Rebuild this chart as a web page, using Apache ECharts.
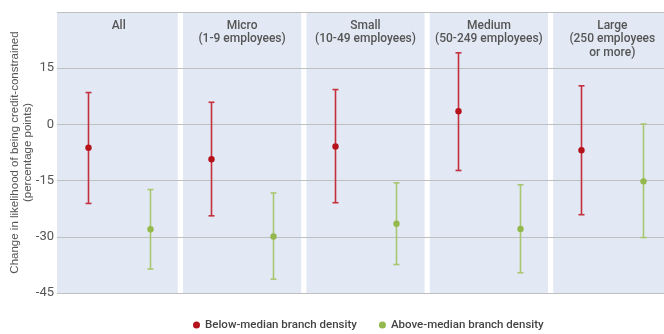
<!DOCTYPE html>
<html>
<head>
<meta charset="utf-8">
<script src="https://cdn.jsdelivr.net/npm/echarts@6/dist/echarts.min.js"></script>
<style>html,body{margin:0;padding:0;background:#fff}#c{width:664px;height:334px}</style>
</head>
<body>
<div id="c"></div>
<script>
const categories = ['All', 'Micro\n(1-9 employees)', 'Small\n(10-49 employees)', 'Medium\n(50-249 employees)', 'Large\n(250 employees\nor more)'];
const belowPoint = [-6.2, -9.3, -5.9, 3.5, -6.9];
const belowLow   = [-21.1, -24.4, -20.9, -12.3, -24.1];
const belowHigh  = [8.5, 5.9, 9.3, 19.1, 10.3];
const abovePoint = [-28.0, -29.9, -26.5, -27.9, -15.2];
const aboveLow   = [-38.6, -41.3, -37.4, -39.6, -30.2];
const aboveHigh  = [-17.4, -18.3, -15.6, -16.1, 0.1];
const seriesNames = ['Below-median branch density', 'Above-median branch density'];
const yTicks = { min: -45, max: 30, interval: 15 };

const RED = '#b5121b', RED_LINE = '#c4313d';
const GREEN = '#93b84c', GREEN_LINE = '#a9c670';
const FONT = '"Liberation Sans Narrow", Roboto, sans-serif';

function panelRender(params, api) {
  const cs = params.coordSys;
  const idx = api.value(0);
  const c = api.coord([idx, 0]);
  const bw = api.size([1, 0])[0];
  const gap = 2.6;
  let x0 = c[0] - bw / 2 + (idx === 0 ? 0 : gap);
  let x1 = c[0] + bw / 2 - gap;
  return { type: 'rect', shape: { x: x0, y: cs.y, width: x1 - x0, height: cs.height },
           style: { fill: '#e2e9f4' }, silent: true };
}

function errRender(side, lineColor, dotColor) {
  return function (params, api) {
    const idx = api.value(0);
    const bw = api.size([1, 0])[0];
    const p = api.coord([idx, api.value(3)]);
    const x = Math.round(p[0] + side * bw / 4) + 0.5;
    const lo = api.coord([idx, api.value(1)])[1];
    const hi = api.coord([idx, api.value(2)])[1];
    const cap = 3;
    const ls = { stroke: lineColor, lineWidth: 1.6 };
    return { type: 'group', children: [
      { type: 'line', shape: { x1: x, y1: hi, x2: x, y2: lo }, style: ls },
      { type: 'line', shape: { x1: x - cap, y1: hi, x2: x + cap, y2: hi }, style: ls },
      { type: 'line', shape: { x1: x - cap, y1: lo, x2: x + cap, y2: lo }, style: ls },
      { type: 'circle', shape: { cx: x, cy: p[1], r: 3.2 }, style: { fill: dotColor } }
    ]};
  };
}

const chart = echarts.init(document.getElementById('c'), null, { renderer: 'canvas' });
chart.setOption({
  animation: false,
  grid: { left: 57, right: -10, top: 12, bottom: 41, containLabel: false, outerBoundsMode: 'none' },
  legend: {
    top: 314, left: 188, itemGap: 22, itemWidth: 7, itemHeight: 7,
    textStyle: { fontFamily: FONT, fontSize: 11.5, fontWeight: 500, color: '#444' },
    data: [
      { name: seriesNames[0], icon: 'circle', itemStyle: { color: RED } },
      { name: seriesNames[1], icon: 'circle', itemStyle: { color: GREEN } }
    ]
  },
  xAxis: {
    type: 'category', data: categories, position: 'top', boundaryGap: true, z: 3,
    axisLine: { show: false }, axisTick: { show: false }, splitLine: { show: false },
    axisLabel: { inside: true, margin: 7, verticalAlign: 'top', interval: 0, hideOverlap: false,
      fontFamily: FONT, fontSize: 12, fontWeight: 500, color: '#555', lineHeight: 13.5 }
  },
  yAxis: {
    type: 'value', min: yTicks.min, max: yTicks.max, interval: yTicks.interval, z: 3,
    axisLine: { show: false }, axisTick: { show: false },
    splitLine: { show: true, lineStyle: { color: '#bfbfbf', width: 1 } },
    axisLabel: { margin: 3, fontFamily: FONT, fontSize: 13, color: '#555',
      formatter: v => (v === yTicks.max ? '' : String(v)) },
    name: 'Change in likelihood of being credit-constrained\n(percentage points)',
    nameLocation: 'middle', nameGap: 23, nameMoveOverlap: false,
    nameTextStyle: { fontFamily: '"Liberation Sans", Arial, sans-serif', fontSize: 11.5, color: '#555', lineHeight: 13 }
  },
  series: [
    { type: 'custom', name: 'panels', z: 1, silent: true, renderItem: panelRender,
      data: categories.map((c, i) => [i]), encode: { x: 0 } },
    { type: 'custom', name: seriesNames[0], z: 5, itemStyle: { color: RED },
      renderItem: errRender(-1, RED_LINE, RED),
      data: belowPoint.map((v, i) => [i, belowLow[i], belowHigh[i], v]), encode: { x: 0, y: [1, 2, 3] } },
    { type: 'custom', name: seriesNames[1], z: 5, itemStyle: { color: GREEN },
      renderItem: errRender(1, GREEN_LINE, GREEN),
      data: abovePoint.map((v, i) => [i, aboveLow[i], aboveHigh[i], v]), encode: { x: 0, y: [1, 2, 3] } }
  ]
});
</script>
</body>
</html>
